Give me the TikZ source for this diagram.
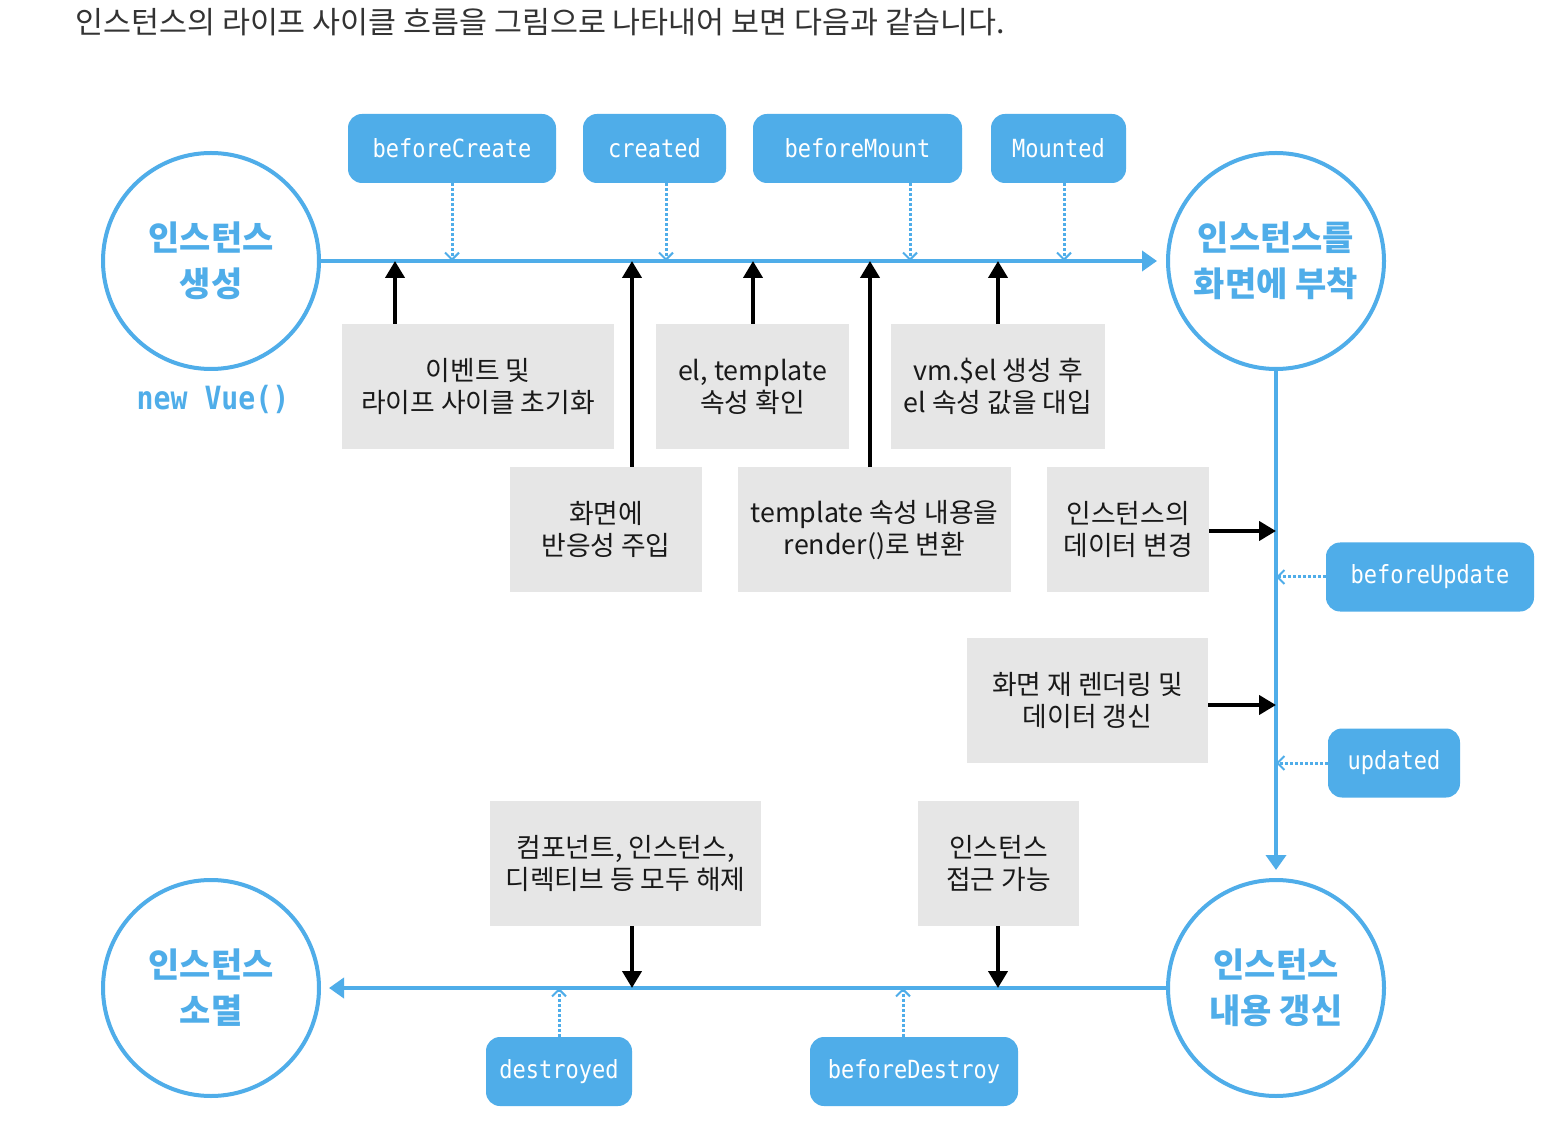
\documentclass[tikz,border=0pt]{standalone}
\usepackage{fontspec}
\setmainfont{Noto Sans CJK KR}
\newfontfamily\monofont[FakeStretch=0.88]{DejaVu Sans Mono}
\usetikzlibrary{arrows.meta}
\definecolor{vblue}{HTML}{4FADE9}
\definecolor{gbox}{HTML}{E6E6E6}
\definecolor{hdr}{HTML}{333333}
\tikzset{
  lifecircle/.style={circle, draw=vblue, line width=2pt, fill=white, inner sep=0pt,
    minimum size=108pt, text=vblue, font=\fontsize{17}{23}\selectfont\bfseries, align=center},
  hookbox/.style={rectangle, rounded corners=7pt, fill=vblue, text=white, inner sep=0pt,
    minimum height=34.5pt, font=\monofont\fontsize{12.5}{14}\selectfont},
  stepbox/.style={rectangle, fill=gbox, inner sep=0pt, minimum height=62.5pt, align=center,
    text=black!90, font=\fontsize{13.4}{16}\selectfont},
  bline/.style={draw=vblue, line width=2pt, -{Triangle[length=7.5pt,width=10pt]}},
  blk/.style={draw=black, line width=2pt, -{Triangle[length=8.5pt,width=9.5pt]}},
  hookarrow/.style={draw=vblue, line width=1.5pt, dash pattern=on 1.5pt off 1pt,
    -{Straight Barb[length=3.5pt,width=7pt,line width=1pt]}},
}
\begin{document}
\begin{tikzpicture}[x=0.5pt,y=-0.5pt]
\useasboundingbox[fill=white] (0,0) rectangle (1551,1143);

% header
\node[anchor=west, inner sep=0pt, text=hdr, font=\fontsize{15.2}{17}\selectfont] (hdr) at (75,22)
  {인스턴스의 라이프 사이클 흐름을 그림으로 나타내어 보면 다음과 같습니다.};

% circles
\node[lifecircle] (c1) at (211,261) {인스턴스\\생성};
\node[lifecircle] (c2) at (1276,261) {인스턴스를\\화면에 부착};
\node[lifecircle] (c3) at (1276,988) {인스턴스\\내용 갱신};
\node[lifecircle] (c4) at (211,988) {인스턴스\\소멸};
\node[text=vblue, inner sep=0pt, font=\monofont\bfseries\fontsize{16}{18}\selectfont] (nv) at (213,399) {new Vue()};

% main flow lines
\draw[bline, shorten >=4.5pt] (c1.east) -- (c2.west);
\draw[bline, shorten >=4pt] (c2.south) -- (c3.north);
\draw[bline, shorten >=4pt] (c3.west) -- (c4.east);

% hook boxes
\node[hookbox, minimum width=104pt] (b1) at (452,148.5) {beforeCreate};
\node[hookbox, minimum width=71.5pt] (b2) at (654.5,148.5) {created};
\node[hookbox, minimum width=104.5pt] (b3) at (857.5,148.5) {beforeMount};
\node[hookbox, minimum width=67.5pt] (b4) at (1058.5,148.5) {Mounted};
\node[hookbox, minimum width=104pt] (b5) at (1430,577) {beforeUpdate};
\node[hookbox, minimum width=66pt] (b6) at (1394,763) {updated};
\node[hookbox, minimum width=73pt] (b7) at (559,1071.5) {destroyed};
\node[hookbox, minimum width=104pt] (b8) at (914,1071.5) {beforeDestroy};

% step boxes
\node[stepbox, minimum width=136pt] (g1) at (478,386.5) {이벤트 및\\라이프 사이클 초기화};
\node[stepbox, minimum width=96.5pt] (g2) at (752.5,386.5) {el, template\\속성 확인};
\node[stepbox, minimum width=107pt] (g3) at (998,386.5) {vm.\$el 생성 후\\el 속성 값을 대입};
\node[stepbox, minimum width=96pt] (g4) at (606,529.5) {화면에\\반응성 주입};
\node[stepbox, minimum width=136.5pt] (g5) at (874.5,530) {template 속성 내용을\\render()로 변환};
\node[stepbox, minimum width=81pt] (g6) at (1128,529.5) {인스턴스의\\데이터 변경};
\node[stepbox, minimum width=120.5pt] (g7) at (1087.5,700.5) {화면 재 렌더링 및\\데이터 갱신};
\node[stepbox, minimum width=135.5pt] (g8) at (625.5,863.5) {컴포넌트, 인스턴스,\\디렉티브 등 모두 해제};
\node[stepbox, minimum width=80.5pt] (g9) at (998.5,863.5) {인스턴스\\접근 가능};

% points on the flow lines
\coordinate (p1) at (395,261);
\coordinate (p2) at (753,261);
\coordinate (p3) at (998,261);
\coordinate (p4) at (632,261);
\coordinate (p5) at (870,261);
\coordinate (p6) at (1276,531);
\coordinate (p7) at (1276,705);
\coordinate (p8) at (632,988);
\coordinate (p9) at (998,988);

\draw[blk] (p1 |- g1.north) -- (p1);
\draw[blk] (p2 |- g2.north) -- (p2);
\draw[blk] (p3 |- g3.north) -- (p3);
\draw[blk] (p4 |- g4.north) -- (p4);
\draw[blk] (p5 |- g5.north) -- (p5);
\draw[blk] (g6.east |- p6) -- (p6);
\draw[blk] (g7.east |- p7) -- (p7);
\draw[blk] (p8 |- g8.south) -- (p8);
\draw[blk] (p9 |- g9.south) -- (p9);

% hook connectors
\coordinate (h1) at (452,261);
\coordinate (h2) at (666,261);
\coordinate (h3) at (910,261);
\coordinate (h4) at (1064,261);
\coordinate (h5) at (1276,577);
\coordinate (h6) at (1276,763);
\coordinate (h7) at (559,988);
\coordinate (h8) at (903,988);

\draw[hookarrow] (h1 |- b1.south) -- (h1);
\draw[hookarrow] (h2 |- b2.south) -- (h2);
\draw[hookarrow] (h3 |- b3.south) -- (h3);
\draw[hookarrow] (h4 |- b4.south) -- (h4);
\draw[hookarrow] (b5.west |- h5) -- (h5);
\draw[hookarrow] (b6.west |- h6) -- (h6);
\draw[hookarrow] (h7 |- b7.north) -- (h7);
\draw[hookarrow] (h8 |- b8.north) -- (h8);
\end{tikzpicture}
\end{document}
